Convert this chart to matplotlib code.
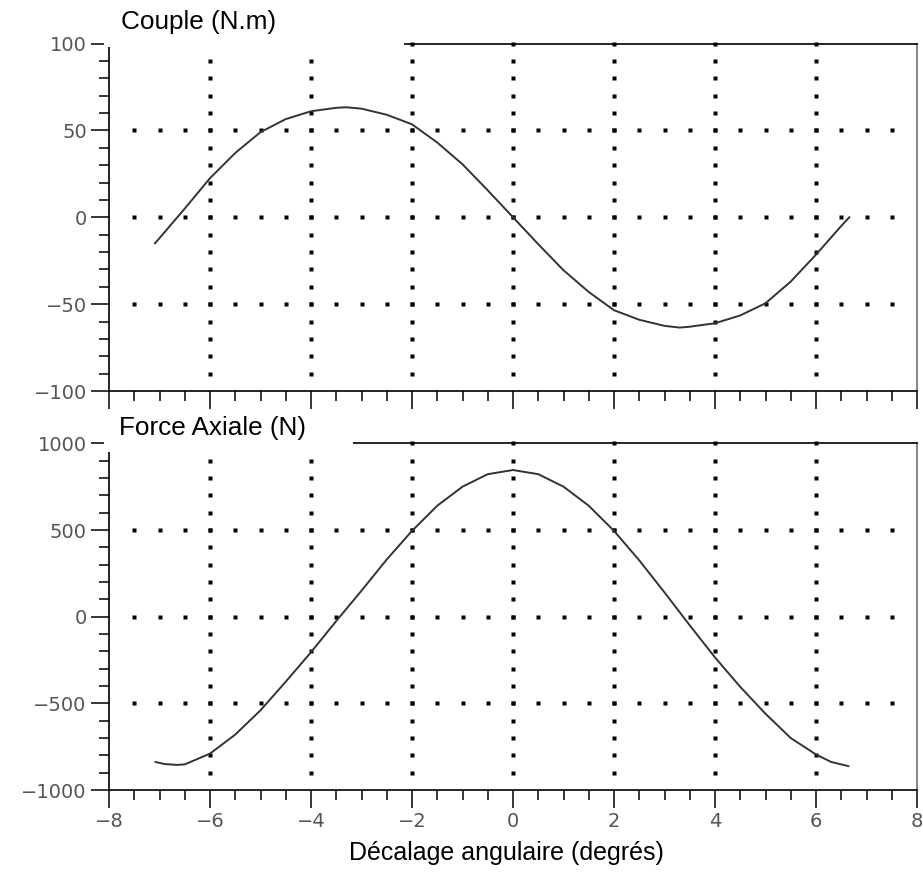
import numpy as np
import matplotlib
matplotlib.use('Agg')
import matplotlib.pyplot as plt
from matplotlib.ticker import MultipleLocator
from matplotlib.patches import Rectangle

x_couple = [-7.09, -7.0, -6.5, -6.0, -5.5, -5.0, -4.5, -4.0, -3.5, -3.3, -3.0, -2.5, -2.0,
            -1.5, -1.0, -0.5, 0.0, 0.5, 1.0, 1.5, 2.0, 2.5, 3.0, 3.3, 3.5, 4.0, 4.5,
            5.0, 5.5, 6.0, 6.5, 6.66]
couple = [-15, -12, 5, 22.5, 37, 49, 56.5, 61, 63, 63.3, 62.5, 59, 53.5,
          43, 30.5, 15.5, 0, -15.5, -30.5, -43, -53.5, -59, -62.5, -63.5, -63, -61, -56.5,
          -49.5, -37, -21.5, -5, 0]

x_force = [-7.08, -6.9, -6.65, -6.5, -6.0, -5.5, -5.0, -4.5, -4.0, -3.5, -3.0, -2.5, -2.0,
           -1.5, -1.0, -0.5, 0.0, 0.5, 1.0, 1.5, 2.0, 2.5, 3.0, 3.5, 4.0, 4.5, 5.0,
           5.5, 6.0, 6.3, 6.64]
force = [-838, -850, -855, -852, -790, -680, -540, -375, -205, -25, 150, 330, 495,
         640, 750, 822, 846, 822, 750, 640, 495, 325, 140, -50, -235, -405, -560,
         -700, -795, -838, -862]

fig = plt.figure(figsize=(9.23, 8.72), dpi=100)
ax1 = fig.add_axes([0.1181, 0.5516, 0.8754, 0.3985])
ax2 = fig.add_axes([0.1181, 0.0940, 0.8754, 0.3976])


def style(ax, lim, ymaj, ymin):
    ax.set_xlim(-8, 8)
    ax.set_ylim(-lim, lim)
    ax.xaxis.set_major_locator(MultipleLocator(2))
    ax.xaxis.set_minor_locator(MultipleLocator(0.5))
    ax.yaxis.set_major_locator(MultipleLocator(ymaj))
    ax.yaxis.set_minor_locator(MultipleLocator(ymin))
    ax.tick_params(which='major', direction='out', length=13, width=1.1, color='k',
                   labelsize=14, labelcolor='#555555', pad=3)
    ax.tick_params(which='minor', direction='out', length=7, width=1.1, color='k')
    for s in ('left', 'bottom', 'top'):
        ax.spines[s].set_linewidth(1.2)
        ax.spines[s].set_color('k')
    ax.spines['right'].set_color('#888888')
    ax.spines['right'].set_linewidth(1.5)
    # grille en pointillés
    ys = np.arange(-lim + ymin, lim + ymin / 2, ymin)
    for xv in range(-6, 7, 2):
        ax.plot(np.full(len(ys), xv), ys, 's', ms=2.5, color='k', mec='none',
                clip_on=False, zorder=1)
    xs = np.arange(-7.5, 7.6, 0.5)
    for yv in (-ymaj, 0, ymaj):
        ax.plot(xs, np.full(len(xs), yv), 's', ms=2.5, color='k', mec='none', zorder=1)


style(ax1, 100, 50, 10)
style(ax2, 1000, 500, 100)
ax1.tick_params(labelbottom=False)

ax1.plot(x_couple, couple, color='#333333', lw=1.4, zorder=3)
ax2.plot(x_force, force, color='#333333', lw=1.4, zorder=3)

# cadres blancs derrière les titres
W, H = 923.0, 872.0
fig.patches.append(Rectangle((104 / W, 1 - 47 / H), 300 / W, 47 / H, transform=fig.transFigure,
                             facecolor='white', edgecolor='none', zorder=2))
fig.patches.append(Rectangle((104 / W, 1 - 452 / H), 249 / W, 41 / H, transform=fig.transFigure,
                             facecolor='white', edgecolor='none', zorder=2))

fig.text(121 / W, 1 - 22 / H, 'Couple (N.m)', fontsize=18.8, family='Liberation Sans',
         va='center', ha='left', zorder=4)
fig.text(119 / W, 1 - 428 / H, 'Force Axiale (N)', fontsize=18.8, family='Liberation Sans',
         va='center', ha='left', zorder=4)
fig.text(506 / W, 1 - 853 / H, 'Décalage angulaire (degrés)', fontsize=18,
         family='Liberation Sans', va='center', ha='center', zorder=4)

fig.savefig('out.png', dpi=100, facecolor='white')
